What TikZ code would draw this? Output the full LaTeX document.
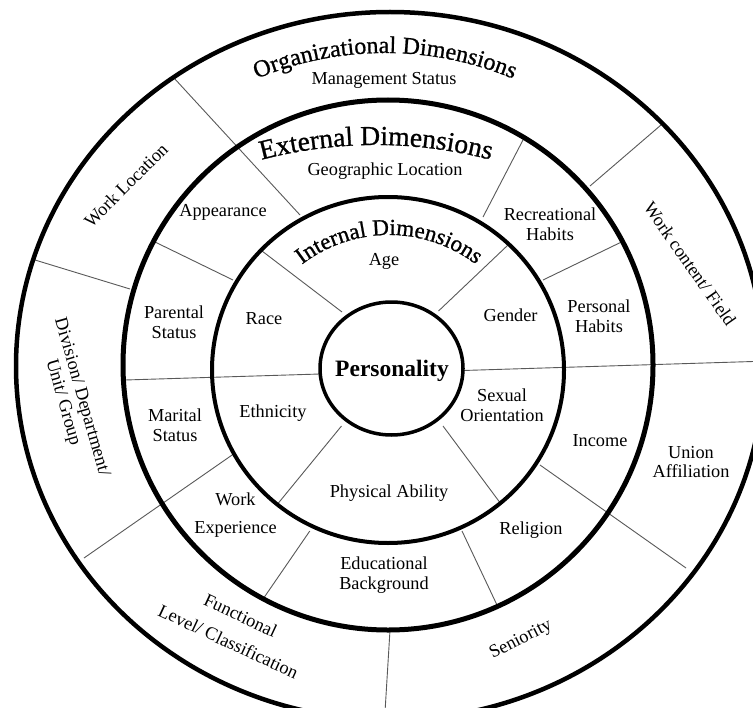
\documentclass[tikz,border=0pt]{standalone}
\usepackage{fontspec}
\setmainfont{Liberation Serif}
\newfontfamily\headfont[FakeBold=0.9]{Liberation Serif}
\usetikzlibrary{decorations.text}
\begin{document}
\begin{tikzpicture}[x=1bp,y=-1bp,
  divider/.style={draw=black!65, line width=0.9bp},
  lab/.style={font=\fontsize{18.3bp}{19.5bp}\selectfont, align=center, inner sep=0pt},
  ringline/.style={draw=black, line width=#1},
]
\useasboundingbox (0,0) rectangle (753,708);
\clip (0,0) rectangle (753,708);
\fill[white] (0,0) rectangle (753,708);

% divider end points
\coordinate (d1a) at (262,251);   \coordinate (d1b) at (342,312);
\coordinate (d2a) at (508,245);   \coordinate (d2b) at (438.5,311);
\coordinate (d3a) at (125,380);   \coordinate (d3b) at (320,374);
\coordinate (d4a) at (463,370.5); \coordinate (d4b) at (753,361.5);
\coordinate (d5a) at (341.5,426); \coordinate (d5b) at (277.6,504);
\coordinate (d6a) at (443,426);   \coordinate (d6b) at (499.5,502);
\coordinate (e1a) at (300,215);   \coordinate (e1b) at (174,78);
\coordinate (e2a) at (155,242);   \coordinate (e2b) at (233,280);
\coordinate (e4a) at (235,453);   \coordinate (e4b) at (84,558);
\coordinate (e5a) at (309.8,531); \coordinate (e5b) at (264,597.6);
\coordinate (e6a) at (462,531);   \coordinate (e6b) at (497,605);
\coordinate (e7a) at (540,465);   \coordinate (e7b) at (686,568);
\coordinate (e8a) at (543,280);   \coordinate (e8b) at (620,242.7);
\coordinate (e9a) at (483,217);   \coordinate (e9b) at (523,140);
\coordinate (e10a) at (590,186);  \coordinate (e10b) at (661,125);
\coordinate (o1a) at (35,260);    \coordinate (o1b) at (130,289);
\coordinate (o2a) at (390,630);   \coordinate (o2b) at (385,712);

\foreach \p in {d1,d2,d3,d4,d5,d6,e1,e2,e4,e5,e6,e7,e8,e9,e10,o1,o2}
  \draw[divider] (\p a) -- (\p b);

% rings
\draw[ringline=4.5bp] (390,366) ellipse [x radius=374, y radius=354];
\draw[ringline=5bp] (388,365) ellipse [x radius=265, y radius=265];
\draw[ringline=4bp] (388,370) ellipse [x radius=176, y radius=173];
\draw[ringline=3.5bp] (391.5,368.5) ellipse [x radius=71.5, y radius=66.5];

% curved headings
\path[decorate, decoration={text along path, text align=center,
  text={|\headfont\fontsize{24bp}{24bp}\selectfont|Organizational Dimensions}}]
  (385,383) ++(225:330) arc [start angle=225, end angle=315, radius=330];
\path[decorate, decoration={text along path, text align=center,
  text={|\headfont\fontsize{27.5bp}{27.5bp}\selectfont|External Dimensions}}]
  (376,595) ++(240:450) arc [start angle=240, end angle=300, radius=450];
\path[decorate, decoration={text along path, text align=center,
  text={|\headfont\fontsize{23bp}{23bp}\selectfont|Internal Dimensions}}]
  (389,378) ++(200:143) arc [start angle=200, end angle=340, radius=143];

% labels
\node[font=\fontsize{23.5bp}{23.5bp}\selectfont\bfseries, inner sep=0pt] (pers) at (392,371) {Personality};
\node[lab] (mgmt) at (384,80) {Management Status};
\node[lab] (geo) at (385,171) {Geographic Location};
\node[lab] (age) at (384,261) {Age};
\node[lab] (appear) at (223,212.5) {Appearance};
\node[lab] (recr) at (550,224) {Recreational\\Habits};
\node[lab] (race) at (264,319) {Race};
\node[lab] (gender) at (510.6,315.5) {Gender};
\node[lab] (parent) at (174,322) {Parental\\Status};
\node[lab] (perhab) at (599,316) {Personal\\Habits};
\node[lab] (marital) at (175,425) {Marital\\Status};
\node[lab] (eth) at (273,413.6) {Ethnicity};
\node[lab] (sexual) at (502,405) {Sexual\\Orientation};
\node[lab] (income) at (600,441) {Income};
\node[lab] (union) at (691,462) {Union\\Affiliation};
\node[lab] (phys) at (389,493) {Physical Ability};
\node[lab] (workexp) at (235.5,515) {Work\\[8.5bp]Experience};
\node[lab] (rel) at (531,530) {Religion};
\node[lab] (edu) at (384,575) {Educational\\Background};
\node[lab, rotate=-25] (func) at (234.5,628.5) {Functional\\[9.5bp]Level/ Classification};
\node[lab, rotate=27] (senior) at (521,640) {Seniority};
\node[lab, rotate=45] (workloc) at (126,185) {Work Location};
\node[lab, rotate=-74] (div) at (72,400) {Division/ Department/\\Unit/ Group};
\node[lab, rotate=-55] (workcont) at (690,264) {Work content/ Field};
\end{tikzpicture}
\end{document}
